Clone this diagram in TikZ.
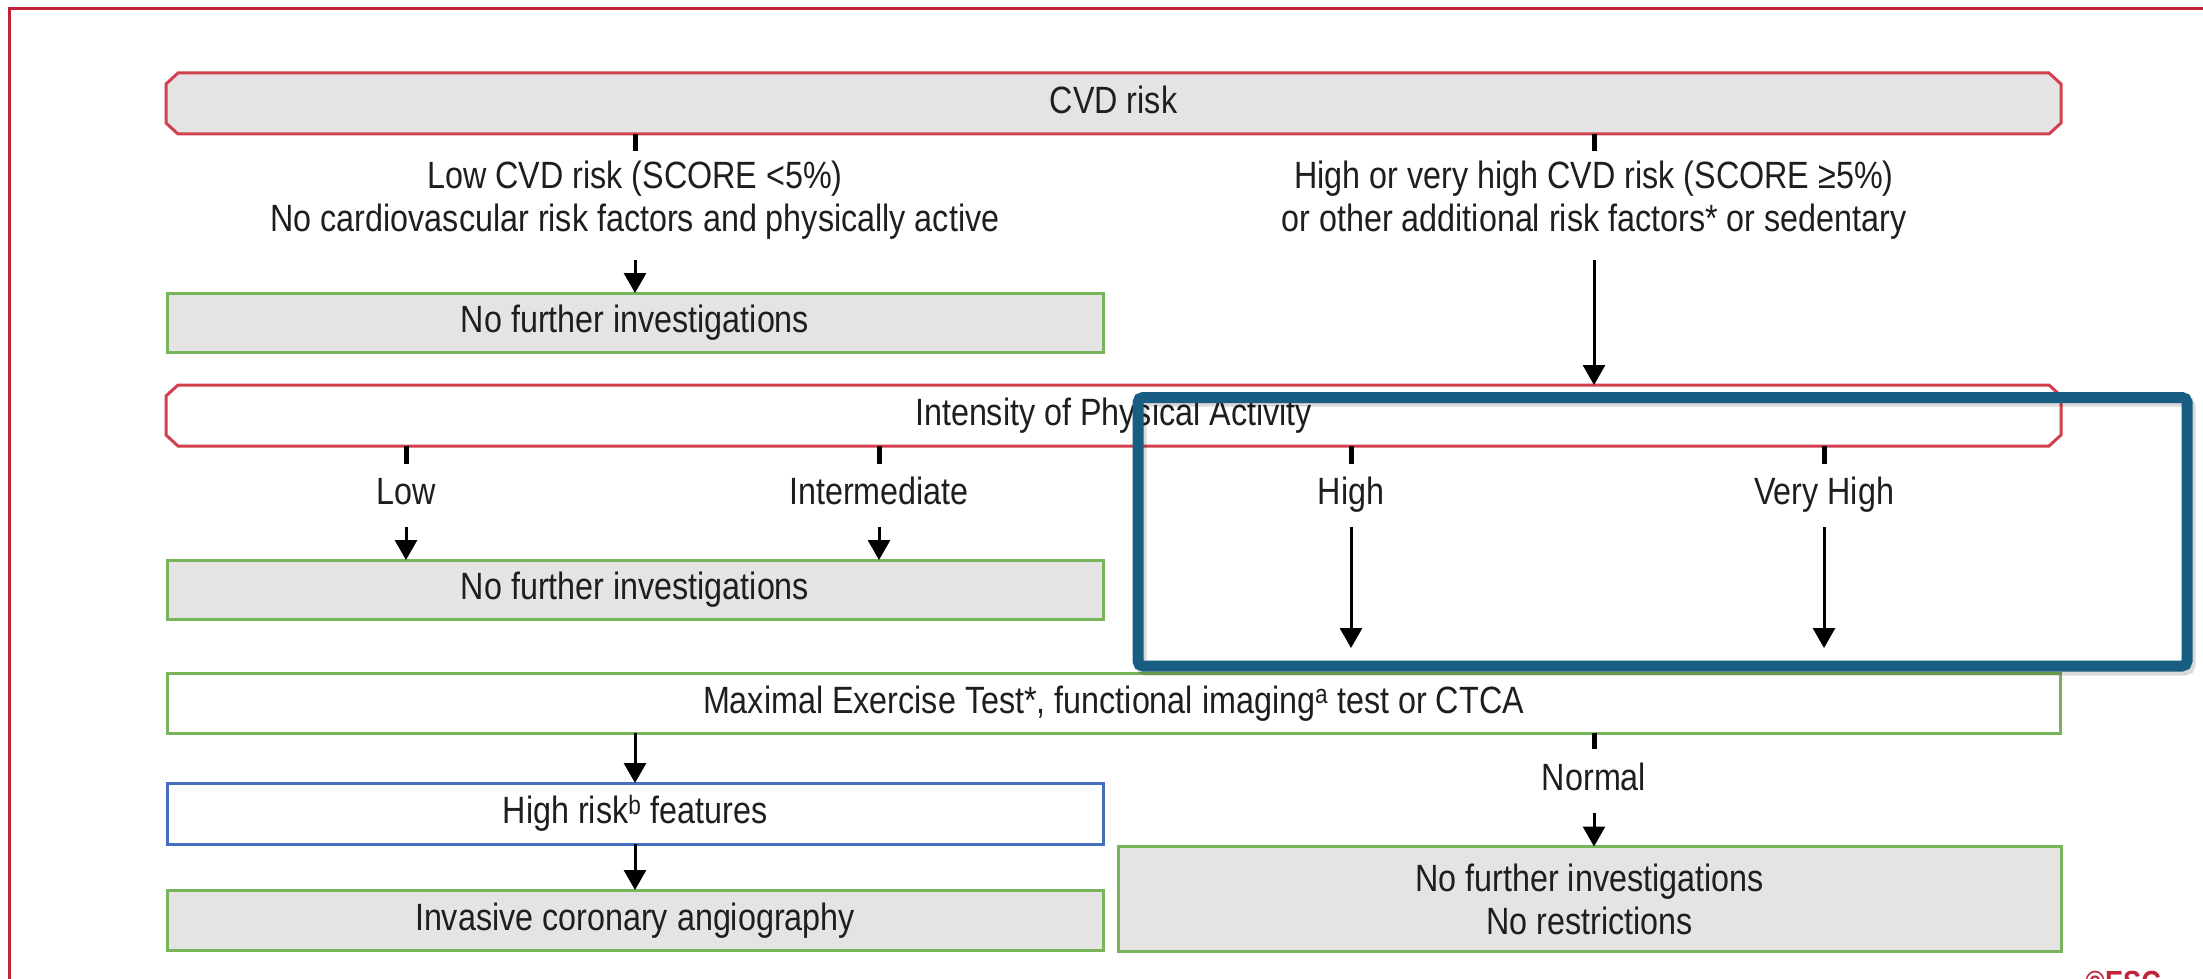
\documentclass[tikz,border=0pt]{standalone}
\usepackage{fontspec}
\setmainfont{Liberation Sans}[FakeStretch=0.85]
\usetikzlibrary{arrows.meta,calc,backgrounds}
\definecolor{framered}{RGB}{192,35,58}
\definecolor{chamred}{RGB}{210,64,78}
\definecolor{boxgreen}{RGB}{120,180,90}
\definecolor{boxblue}{RGB}{70,110,190}
\definecolor{boxgray}{RGB}{228,228,228}
\definecolor{hilite}{RGB}{23,94,130}
\definecolor{txt}{RGB}{30,30,30}
\newcommand\octbox[2]{%
  \draw[draw=chamred, line width=3pt, fill=#2]
    ($(#1.north west)+(12,0)$) -- ($(#1.north east)+(-12,0)$) --
    ($(#1.north east)+(0,11)$) -- ($(#1.south east)+(0,-11)$) --
    ($(#1.south east)+(-12,0)$) -- ($(#1.south west)+(12,0)$) --
    ($(#1.south west)+(0,-11)$) -- ($(#1.north west)+(0,11)$) -- cycle;}
\begin{document}
\begin{tikzpicture}[x=1pt,y=-1pt,
  every node/.style={font=\fontsize{38}{43}\selectfont, text=txt, inner sep=0pt, outer sep=0pt, align=center},
  one/.style={text height=28pt, text depth=8pt},
  sz/.style 2 args={minimum width=#1, minimum height=#2},
  gbox/.style={draw=boxgreen, line width=3pt},
  bbox/.style={draw=boxblue, line width=3pt, fill=white},
  tick/.style={line width=5pt, black},
  arr/.style={line width=3pt, black, -{Triangle[width=22pt,length=20pt]}}]
\useasboundingbox (0,0) rectangle (2203,979);
\clip (0,0) rectangle (2203,979);
\draw[framered, line width=3pt] (9,9) rectangle (2260,1060);

\node[one, sz={1895pt}{61pt}] (cvd) at (1113.5,103.5) {CVD risk};
\node (lowtxt) at (635,200) {Low CVD risk (SCORE <5\%)\\No cardiovascular risk factors and physically active};
\node (hightxt) at (1594,200) {High or very high CVD risk (SCORE ≥5\%)\\or other additional risk factors* or sedentary};
\node[one, gbox, fill=boxgray, sz={936pt}{59pt}] (nf1) at (635,322.5) {No further investigations};
\node[one, sz={1895pt}{61pt}] (pa) at (1113.5,415.5) {Intensity of Physical Activity};
\node[one] (low) at (406,494) {Low};
\node[one] (inter) at (879,494) {Intermediate};
\node[one] (high) at (1351,494) {High};
\node[one] (vhigh) at (1824,494) {Very High};
\node[one, gbox, fill=boxgray, sz={936pt}{59pt}] (nf2) at (635,589.5) {No further investigations};
\node[one, gbox, fill=white, sz={1893pt}{60pt}] (met) at (1113.5,703) {Maximal Exercise Test*, functional imaging\textsuperscript{a} test or CTCA};
\node[one, bbox, sz={936pt}{61pt}] (hr) at (635,813.5) {High risk\textsuperscript{b} features};
\node[one, gbox, fill=boxgray, sz={936pt}{60pt}] (ica) at (635,920) {Invasive coronary angiography};
\node[one] (normal) at (1594,780) {Normal};
\node[gbox, fill=boxgray, sz={943pt}{105pt}] (nfr) at (1589.5,899) {No further investigations\\No restrictions};
\node[anchor=north, font=\bfseries\fontsize{32}{32}\selectfont, text=framered] (esc) at (2123,971) {©ESC};

\begin{scope}[on background layer]
\octbox{cvd}{boxgray}
\octbox{pa}{white}
\end{scope}

% connectors
\draw[tick] (cvd.south -| lowtxt) -- ++(0,17);
\draw[tick] (cvd.south -| hightxt) -- ++(0,17);
\coordinate (lowtxtS) at (635,260);
\coordinate (hightxtS) at (1594,260);
\draw[arr] (lowtxtS) -- (nf1.north);
\draw[arr] (hightxtS) -- (hightxtS |- pa.north);
\draw[tick] (pa.south -| low) -- ++(0,18);
\draw[tick] (pa.south -| inter) -- ++(0,18);
\draw[tick] (pa.south -| high) -- ++(0,18);
\draw[tick] (pa.south -| vhigh) -- ++(0,18);
\coordinate (lowS) at (406,527);
\coordinate (interS) at (879,527);
\coordinate (highS) at (1351,527);
\coordinate (vhighS) at (1824,527);
\coordinate (highE) at (1351,648);
\coordinate (vhighE) at (1824,648);
\draw[arr] (lowS) -- (lowS |- nf2.north);
\draw[arr] (interS) -- (interS |- nf2.north);
\draw[arr] (highS) -- (highE);
\draw[arr] (vhighS) -- (vhighE);
\draw[arr] (met.south -| hr) -- (hr.north);
\draw[arr] (hr.south) -- (ica.north);
\draw[tick] (met.south -| normal) -- ++(0,16);
\coordinate (normalS) at (1594,813);
\draw[arr] (normalS) -- (nfr.north -| normal);

% highlight
\draw[black, opacity=0.15, line width=11pt, rounded corners=5pt] (1141,401) rectangle (2190,670);
\draw[hilite, line width=11pt, rounded corners=5pt] (1138,397.5) rectangle (2187,666);
\end{tikzpicture}
\end{document}
